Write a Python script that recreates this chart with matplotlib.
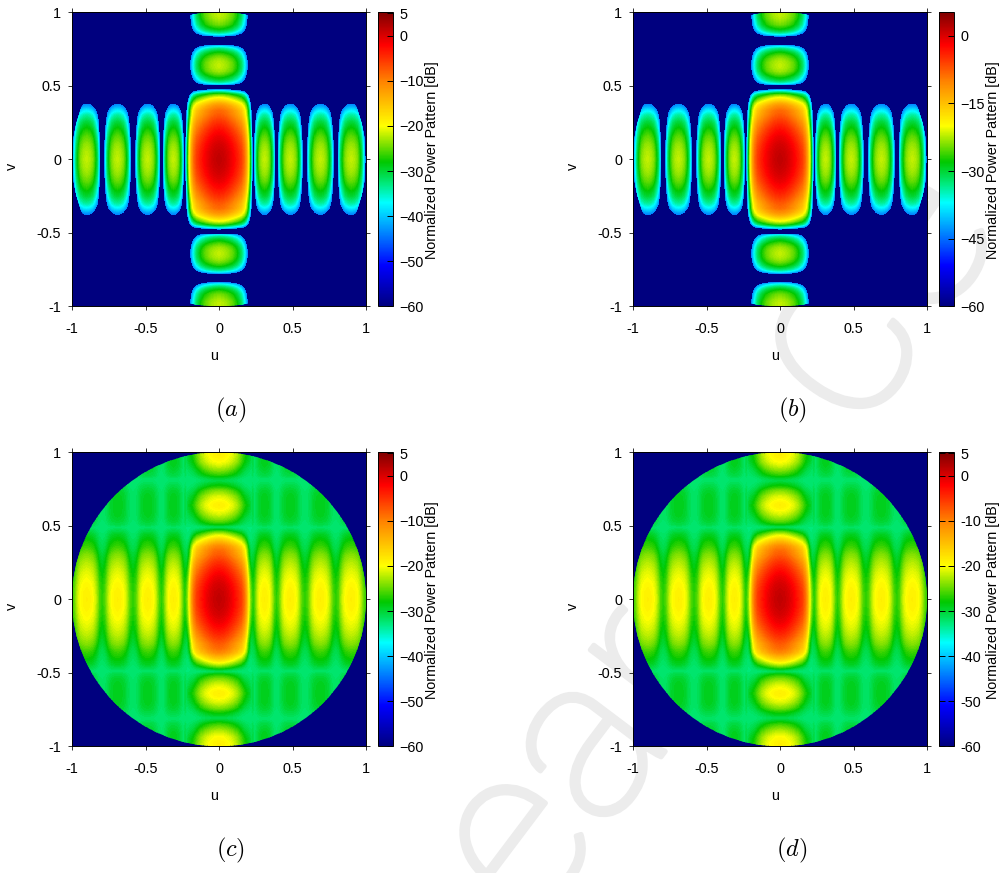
import numpy as np
import matplotlib
matplotlib.use("Agg")
import matplotlib.pyplot as plt
import matplotlib.patheffects as pe
from matplotlib.cm import ScalarMappable
from matplotlib.colors import LinearSegmentedColormap, Normalize
from matplotlib.patches import Circle

plt.rcParams['font.family'] = ['Liberation Sans', 'DejaVu Sans']
plt.rcParams['mathtext.fontset'] = 'cm'

# values, dB relative to the peak, for u >= 0 and v >= 0 (mirrored later)
peak_db = 1.5

u_half = [0, .03, .06, .09, .12, .15, .17, .185, .2, .21, .22, .23, .235,
          .245, .252, .258, .268, .281, .296, .31, .324, .339, .352, .362, .369, .375, .392,
          .408, .416, .423, .435, .45, .468, .485, .502, .52, .535, .547, .554, .562, .585,
          .607, .615, .623, .636, .653, .672, .69, .708, .727, .744, .757, .765, .773, .795,
          .816, .823, .831, .845, .861, .881, .9, .919, .939, .955, .969, .977, .987, 1.0]
lobe_sharp = [-41, -36, -32, -28.5, -25.5, -24, -23.5, -24, -25.5, -28.5, -32, -36, -41]
lobe_soft = [-28, -26.5, -25, -23, -21.5, -20.8, -20.5, -20.8, -21.5, -23, -25, -26.5, -28]
main_sharp = [0, -.4, -1.5, -3, -4.8, -7, -10, -14, -21, -28, -37, -50, -60]
main_top = [0, -.5, -1.5, -3, -5.5, -9.5, -14, -19, -25, -30, -40, -50, -60]
main_soft = [0, -.4, -1.5, -3, -4.8, -7, -10, -14, -21, -25, -28, -30, -30]
main_wide = [0, -.25, -1, -2.2, -4, -7, -9.5, -11, -12.5, -14, -18, -24, -30]
side_sharp = lobe_sharp + [-60] + lobe_sharp + [-60] + lobe_sharp + [-60] + lobe_sharp + [-50]
side_soft = lobe_soft + [-30] + lobe_soft + [-30] + lobe_soft + [-30] + lobe_soft + [-29]

v_half = [0, .05, .1, .15, .2, .25, .3, .33, .36, .38, .4, .42, .44, .46, .47, .48, .49, .5,
          .512, .52, .53, .545, .56, .58, .6, .62, .64, .66, .68, .7, .72, .735, .75, .76, .77, .785, .8,
          .815, .83, .845, .855, .87, .885, .9, .92, .94, .96, .98, 1.0]
pv_top = [-41, -37, -34, -31, -29, -26.5, -24.7, -23.8, -23.5, -23.8, -24.7, -26.3, -28.5, -31, -34, -37, -41, -50, -60,
          -60, -50, -41, -37, -33, -30, -28, -26, -25, -24, -23.5, -23.5]
pv_sharp = [0, -.3, -1.1, -2.4, -4.2, -6.4, -9, -10, -12.5, -15, -18.5, -22, -27, -36, -42, -50, -60, -55] + pv_top
pv_lobes = [0, -.4, -1.4, -3, -5.3, -8, -12, -15.5, -20, -22.5, -27, -33, -40, -50, -50, -60, -60, -60] + pv_top
pv_main = [0, -.3, -1.1, -2.4, -4.2, -6.4, -9, -10, -12, -14.5, -17, -20, -23.5, -28, -31, -35, -40, -36,
           -31, -29.5, -28, -26.2, -24.8, -23.2, -22, -21, -20.5, -21, -22, -23, -24.8, -26, -28, -29.5, -31, -33, -36,
           -36, -33, -30, -28.5, -27, -25.5, -24.2, -22.7, -21.5, -21, -20.5, -20.5]
pv_side = [0, -.2, -.7, -1.5, -2.5, -3.8, -5.5, -7, -8.5, -9.4, -10.5, -11.7, -13, -15.5, -17, -19.5, -22, -19,
           -16, -15.5, -14.5, -13.7, -13.2, -12.8, -12.6, -12.5, -12.5, -12.5, -12.6, -12.8, -13.2, -13.8, -14.5, -15.3, -16, -18, -20,
           -22, -19, -16, -15.3, -14.5, -13.8, -13.2, -12.8, -12.6, -12.5, -12.5, -12.5]

cut_db = -44       # panels a, b: nothing drawn below this
floor_db = -32.5   # panels c, d: level of the flat part inside the circle

palette_db = [-60, -51, -37, -33, -28, -24, -20, -10, -2, 5.2]
palette_rgb = ['#00007f', '#0000ff', '#00ffff', '#00eb82', '#00c800', '#82e100',
               '#ffff00', '#ff8200', '#ff0000', '#7f0000']

axis_ticks = [-1, -0.5, 0, 0.5, 1]
axis_labels = ['-1', '-0.5', '0', '0.5', '1']
cbar_ticks_10 = [-60, -50, -40, -30, -20, -10, 0, 5]
cbar_ticks_15 = [-60, -45, -30, -15, 0]
captions = ['(a)', '(b)', '(c)', '(d)']


def mirror(half):
    half = np.array(half, dtype=float)
    return np.concatenate([half[:0:-1], half])


def signed(half):
    half = np.array(half, dtype=float)
    return np.concatenate([-half[:0:-1], half])


u = signed(u_half)
v = signed(v_half)
U, V = np.meshgrid(u, v)

# a, b
rows = np.where(np.abs(V) > .49, mirror(main_top + side_sharp)[None, :], mirror(main_sharp + side_sharp)[None, :])
cols = np.where(np.abs(U) < .225, mirror(pv_sharp)[:, None], mirror(pv_lobes)[:, None])
Z_sharp = peak_db + rows + cols

# c, d: main column and side columns have their own cuts, plus the flat floor
rows = np.where(np.abs(V) > .49, mirror(main_wide + side_soft)[None, :], mirror(main_soft + side_soft)[None, :])
cols = np.where(np.abs(U) < .225, mirror(pv_main)[:, None], mirror(pv_side)[:, None])
Z_soft = peak_db + rows + cols
Z_soft = 10 * np.log10(10 ** (Z_soft / 10) + 10 ** (floor_db / 10))

cmap = LinearSegmentedColormap.from_list(
    'pattern', [((d + 60) / 65.2, c) for d, c in zip(palette_db, palette_rgb)], N=512)
norm = Normalize(-60, 5.2)

W, H = 1002, 873
fig = plt.figure(figsize=(W / 100, H / 100), dpi=100)

# pale watermark behind everything
for word, wx, wy, ws, wr in [('ear', 533, 927, 165, 53), ('ce', 860, 437, 180, 55)]:
    fig.text(wx / W, 1 - wy / H, word, rotation=wr, rotation_mode='anchor', ha='left', va='baseline',
             fontsize=ws, color='#ececec', zorder=-1, family='Roboto', weight='light',
             path_effects=[pe.withStroke(linewidth=3.5, foreground='#ececec')])

panels = [(72, 12.3, Z_sharp, cut_db, cbar_ticks_10), (633, 12.3, Z_sharp, cut_db, cbar_ticks_15),
          (72, 452.3, Z_soft, -60, cbar_ticks_10), (633, 452.3, Z_soft, -60, cbar_ticks_10)]

for (x0, y0, Z, low, cticks), cap in zip(panels, captions):
    ax = fig.add_axes([x0 / W, 1 - (y0 + 294) / H, 294 / W, 294 / H])
    ax.set_facecolor('#00007f')
    cs = ax.contourf(u, v, Z, levels=np.linspace(low, 5.2, 150), cmap=cmap, norm=norm)
    cs.set_clip_path(Circle((0, 0), 1, transform=ax.transData))
    ax.set_xlim(-1, 1)
    ax.set_ylim(-1, 1)
    ax.set_xticks(axis_ticks, axis_labels)
    ax.set_yticks(axis_ticks, axis_labels)
    ax.tick_params(direction='out', length=3, width=0.7, labelsize=10.4,
                   top=True, right=True, color='#333333')
    ax.tick_params(axis='x', pad=8.5)
    ax.tick_params(axis='y', pad=5)
    for s in ax.spines.values():
        s.set_linewidth(0.7)

    cax = fig.add_axes([(x0 + 305.5) / W, 1 - (y0 + 294) / H, 15.3 / W, 294 / H])
    cb = fig.colorbar(ScalarMappable(norm=norm, cmap=cmap), cax=cax)
    cb.set_ticks(cticks, labels=[str(t) for t in cticks])
    cb.outline.set_linewidth(0.7)
    cax.tick_params(direction='in', left=True, right=True, length=4.5, width=0.7,
                    labelsize=10.4, pad=5)

    fig.text((x0 + 142) / W, 1 - (y0 + 344) / H, 'u', fontsize=10.4, ha='center', va='center')
    fig.text((x0 - 60) / W, 1 - (y0 + 154) / H, 'v', fontsize=10.4, ha='center', va='center',
             rotation=90)
    fig.text((x0 + 360) / W, 1 - (y0 + 148) / H, 'Normalized Power Pattern [dB]', fontsize=10.4,
             ha='center', va='center', rotation=90)
    fig.text((x0 + 159) / W, 1 - (y0 + 398.5) / H, '$' + cap + '$', fontsize=17.5,
             ha='center', va='center')

fig.savefig('out.png', dpi=100)
